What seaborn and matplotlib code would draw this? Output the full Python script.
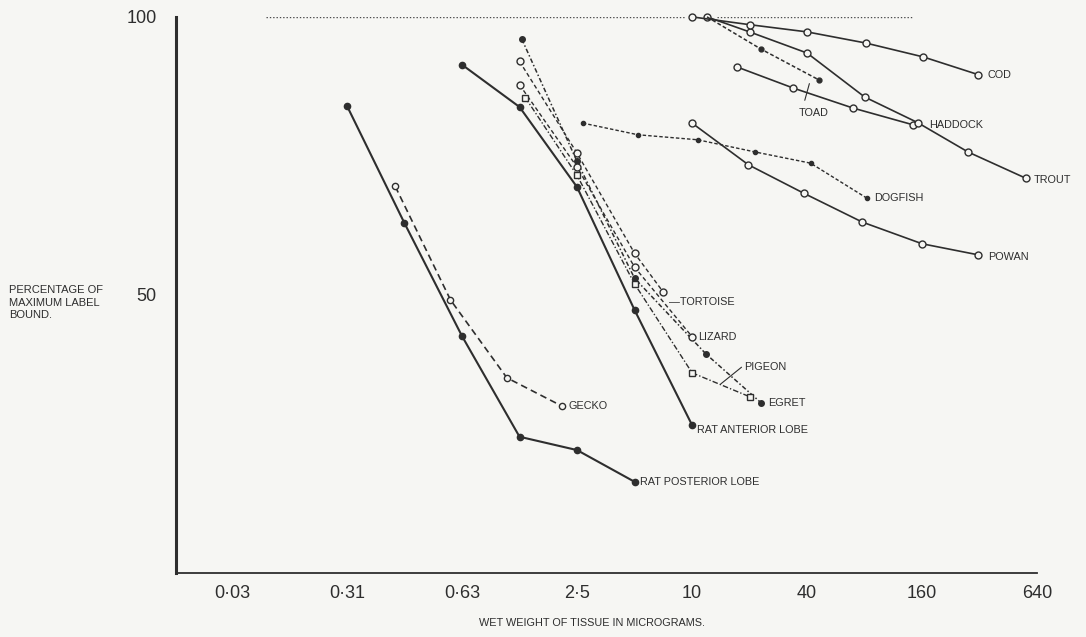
import matplotlib
matplotlib.use("Agg")
import matplotlib.pyplot as plt
import seaborn as sns
import pandas as pd

# ---------------- data (x in axis-tick units: 0 = "0·03", 1 = "0·31", ... 7 = "640") -------------
tick_labels = ["0·03", "0·31", "0·63", "2·5", "10", "40", "160", "640"]

rat_post_x = [1.0, 1.5, 2.0, 2.5, 3.0, 3.5]
rat_post_y = [84.0, 62.9, 42.6, 24.5, 22.1, 16.4]

gecko_x = [1.42, 1.9, 2.39, 2.87]
gecko_y = [69.5, 49.1, 35.1, 30.0]

rat_ant_x = [2.0, 2.5, 3.0, 3.5, 4.0]
rat_ant_y = [91.4, 83.8, 69.4, 47.3, 26.6]

egret_x = [2.52, 3.0, 3.5, 4.12, 4.6]
egret_y = [96.0, 74.0, 53.0, 39.4, 30.6]

tortoise_x = [2.5, 3.0, 3.5, 3.75]
tortoise_y = [92.0, 75.5, 57.5, 50.5]

lizard_x = [2.5, 3.0, 3.5, 4.0]
lizard_y = [87.8, 73.0, 55.0, 42.5]

pigeon_x = [2.55, 3.0, 3.5, 4.0, 4.5]
pigeon_y = [85.5, 71.5, 52.0, 36.0, 31.7]

dogfish_x = [3.05, 3.53, 4.05, 4.55, 5.03, 5.52]
dogfish_y = [80.9, 78.8, 77.9, 75.7, 73.7, 67.4]

powan_x = [4.0, 4.49, 4.97, 5.48, 6.0, 6.49]
powan_y = [80.9, 73.4, 68.3, 63.1, 59.2, 57.2]

haddock_x = [4.39, 4.88, 5.4, 5.92]
haddock_y = [91.0, 87.2, 83.6, 80.6]

trout_x = [4.13, 4.5, 5.0, 5.5, 5.96, 6.4, 6.9]
trout_y = [100.0, 97.3, 93.5, 85.6, 81.0, 75.7, 71.0]

cod_x = [4.0, 4.5, 5.0, 5.51, 6.01, 6.49]
cod_y = [100.0, 98.6, 97.3, 95.3, 92.8, 89.6]

toad_x = [4.13, 4.6, 5.1]
toad_y = [100.0, 94.2, 88.7]

# label text and anchor (x, y) in data units
label_names = ["COD", "HADDOCK", "TROUT", "DOGFISH", "POWAN", "TOAD", "—TORTOISE",
               "LIZARD", "PIGEON", "EGRET", "GECKO", "RAT ANTERIOR LOBE", "RAT POSTERIOR LOBE"]
label_x = [6.57, 6.06, 6.97, 5.58, 6.57, 4.93, 3.8, 4.05, 4.45, 4.66, 2.93, 4.04, 3.55]
label_y = [89.6, 80.6, 70.7, 67.4, 56.8, 82.8, 48.7, 42.4, 37.0, 30.6, 30.0, 25.7, 16.4]

# ---------------- figure -------------------------------------------------------------------
sns.set_theme(style="white")
plt.rcParams["font.family"] = ["Liberation Sans", "DejaVu Sans"]

bg = "#f6f6f3"
ink = "#2e2e2e"
fig = plt.figure(figsize=(10.86, 6.37), dpi=100, facecolor=bg)
ax = fig.add_axes([0.162, 0.1005, 0.793, 0.873], facecolor=bg)

series = [
    (rat_post_x, rat_post_y, dict(linestyle="-", lw=1.5, marker="o", ms=4.5, mfc=ink)),
    (gecko_x, gecko_y, dict(linestyle=(0, (4, 2.5)), lw=1.2, marker="o", ms=4.5, mfc=bg)),
    (rat_ant_x, rat_ant_y, dict(linestyle="-", lw=1.5, marker="o", ms=4.5, mfc=ink)),
    (egret_x, egret_y, dict(linestyle=(0, (3, 1.5, 1, 1.5)), lw=1.1, marker="o", ms=4, mfc=ink)),
    (tortoise_x, tortoise_y, dict(linestyle=(0, (3, 2)), lw=1.0, marker="o", ms=5, mfc=bg)),
    (lizard_x, lizard_y, dict(linestyle=(0, (3, 2)), lw=1.0, marker="o", ms=5, mfc=bg)),
    (pigeon_x, pigeon_y, dict(linestyle=(0, (4, 1.5, 1, 1.5)), lw=1.0, marker="s", ms=4, mfc=bg)),
    (dogfish_x, dogfish_y, dict(linestyle=(0, (2.5, 1.5)), lw=1.0, marker="o", ms=3, mfc=ink)),
    (powan_x, powan_y, dict(linestyle="-", lw=1.2, marker="o", ms=5, mfc=bg)),
    (haddock_x, haddock_y, dict(linestyle="-", lw=1.2, marker="o", ms=5, mfc=bg)),
    (trout_x, trout_y, dict(linestyle="-", lw=1.2, marker="o", ms=5, mfc=bg)),
    (cod_x, cod_y, dict(linestyle="-", lw=1.2, marker="o", ms=5, mfc=bg)),
    (toad_x, toad_y, dict(linestyle=(0, (2.5, 1.5)), lw=1.1, marker="o", ms=3.5, mfc=ink,
                          markevery=[1, 2])),
]

for xs, ys, st in series:
    df = pd.DataFrame({"x": xs, "y": ys})
    sns.lineplot(data=df, x="x", y="y", ax=ax, color=ink, mec=ink, mew=1.0,
                 estimator=None, sort=False, legend=False, clip_on=False, **st)

# dotted 100 % reference line
ax.hlines(100, 0.3, 3.95, colors="#4a4a4a", linestyles=(0, (1, 1.4)), lw=1.0)
ax.hlines(100, 4.22, 5.92, colors="#4a4a4a", linestyles=(0, (1, 1.4)), lw=1.0)

# series labels
for name, lx, ly in zip(label_names, label_x, label_y):
    ax.text(lx, ly, name, fontsize=7.8, color=ink, va="center", ha="left")
# leaders
ax.plot([4.98, 5.02], [85.0, 88.0], color=ink, lw=0.8)
ax.plot([4.25, 4.43], [34.0, 37.0], color=ink, lw=0.8)

ax.set_xlim(-0.487, 7.0)
ax.set_ylim(0, 100)
ax.set_xticks(range(len(tick_labels)))
ax.set_xticklabels(tick_labels, fontsize=13, color=ink)
ax.set_yticks([50, 100])
ax.set_yticklabels(["50", "100"], fontsize=13, color=ink)
ax.tick_params(axis="x", direction="in", length=4, width=1, color=ink, pad=9)
ax.tick_params(axis="y", direction="in", length=4, width=1, color=ink, pad=14)
ax.set_xlabel("")
ax.set_ylabel("")

sns.despine(ax=ax)
ax.spines["left"].set_color(ink)
ax.spines["left"].set_linewidth(2.2)
ax.spines["bottom"].set_color(ink)
ax.spines["bottom"].set_linewidth(1.3)

fig.text(0.008, 0.525, "PERCENTAGE OF\nMAXIMUM LABEL\nBOUND.", fontsize=8,
         color=ink, ha="left", va="center", linespacing=1.3)
fig.text(0.545, 0.014, "WET WEIGHT OF TISSUE IN MICROGRAMS.", fontsize=7.8,
         color=ink, ha="center", va="bottom")

fig.savefig("out.png", dpi=100, facecolor=bg)
